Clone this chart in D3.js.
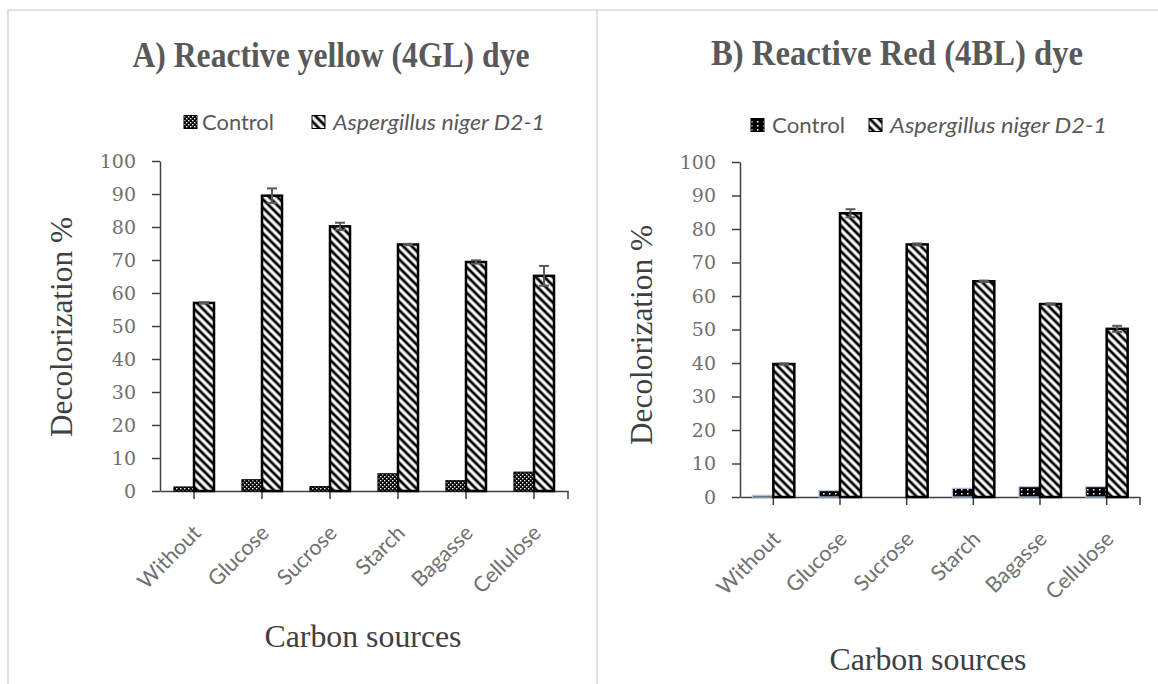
<!DOCTYPE html>
<html lang="en">

<head>
  <meta charset="UTF-8" />
  <script src="https://d3js.org/d3.v7.min.js"></script>
  <title>Decolorization by carbon source</title>
  <style>
    body { margin: 0; background: #fff; }
    svg { display: block; }
  </style>
</head>

<body>
  <svg width="1158" height="684"></svg>

  <script>
    // Data
    const categories = ["Without", "Glucose", "Sucrose", "Starch", "Bagasse", "Cellulose"];
    const seriesNames = ["Control", "Aspergillus niger D2-1"];
    const yTicks = [0, 10, 20, 30, 40, 50, 60, 70, 80, 90, 100];

    const yellowControl = [1.2, 3.4, 1.3, 5.2, 3.1, 5.7];
    const yellowAsp = [57, 89.5, 80.2, 74.7, 69.4, 65.2];
    const yellowAspErr = [0.2, 2.2, 1.1, 0.2, 0.5, 3.0];

    const redControl = [0.5, 1.9, 0, 2.6, 3.1, 3.1];
    const redAsp = [39.7, 84.7, 75.4, 64.4, 57.6, 50.2];
    const redAspErr = [0.2, 1.2, 0.3, 0.2, 0.2, 0.9];

    const svg = d3.select("svg");
    const defs = svg.append("defs");

    // hatch for the Aspergillus bars
    defs.append("pattern")
      .attr("id", "hatch")
      .attr("patternUnits", "userSpaceOnUse")
      .attr("width", 6).attr("height", 6)
      .attr("patternTransform", "rotate(-45)")
      .call(p => {
        p.append("rect").attr("width", 6).attr("height", 6).attr("fill", "#fff");
        p.append("line").attr("x1", 3).attr("y1", 0).attr("x2", 3).attr("y2", 6)
          .attr("stroke", "#000").attr("stroke-width", 2.8);
      });

    // dotted control fill (panel A)
    defs.append("pattern")
      .attr("id", "dotsA")
      .attr("patternUnits", "userSpaceOnUse")
      .attr("width", 4).attr("height", 4)
      .call(p => {
        p.append("rect").attr("width", 4).attr("height", 4).attr("fill", "#000");
        p.append("rect").attr("x", 0).attr("y", 0).attr("width", 1.4).attr("height", 1.4).attr("fill", "#fff");
        p.append("rect").attr("x", 2).attr("y", 2).attr("width", 1.4).attr("height", 1.4).attr("fill", "#fff");
      });

    // sparse dots control fill (panel B)
    defs.append("pattern")
      .attr("id", "dotsB")
      .attr("patternUnits", "userSpaceOnUse")
      .attr("width", 6).attr("height", 4)
      .call(p => {
        p.append("rect").attr("width", 6).attr("height", 4).attr("fill", "#000");
        p.append("rect").attr("x", 1).attr("y", 1).attr("width", 1.5).attr("height", 1.5).attr("fill", "#fff");
      });

    // frame lines
    const frame = svg.append("g").attr("stroke", "#d9d9d9").attr("stroke-width", 1.5).attr("fill", "none");
    frame.append("path").attr("d", "M8,684 V10 H1158");
    frame.append("path").attr("d", "M597,10 V684");

    const serif = "'Liberation Serif', 'DejaVu Serif', serif";
    const sans = "Lato, 'Open Sans', sans-serif";

    function drawPanel(cfg) {
      const g = svg.append("g");

      const x = d3.scaleBand()
        .domain(categories)
        .range([cfg.left, cfg.right]);

      const y = d3.scaleLinear()
        .domain([0, 100])
        .range([cfg.bottom, cfg.top]);

      // title
      g.append("text")
        .attr("x", cfg.titleX).attr("y", cfg.titleY)
        .attr("text-anchor", "middle")
        .attr("font-family", serif).attr("font-weight", "bold")
        .attr("font-size", 35).attr("fill", "#595959")
        .attr("textLength", cfg.titleW).attr("lengthAdjust", "spacingAndGlyphs")
        .text(cfg.title);

      // legend
      const leg = g.append("g").attr("font-family", sans).attr("font-size", 22).attr("fill", "#595959");
      cfg.legend.forEach((l, i) => {
        leg.append("rect")
          .attr("x", l.x).attr("y", cfg.legendY - 6.5)
          .attr("width", 13).attr("height", 13)
          .attr("fill", i === 0 ? `url(#${cfg.controlFill})` : "url(#hatch)")
          .attr("stroke", "#000").attr("stroke-width", 1);
        leg.append("text")
          .attr("x", l.tx).attr("y", cfg.legendY)
          .attr("dy", "0.35em")
          .attr("font-style", i === 1 ? "italic" : "normal")
          .attr("textLength", l.tw).attr("lengthAdjust", "spacingAndGlyphs")
          .text(seriesNames[i]);
      });

      // axes
      const yAxis = g.append("g")
        .attr("transform", `translate(${cfg.left},0)`)
        .call(d3.axisLeft(y).tickValues(yTicks).tickSize(8).tickSizeOuter(0).tickPadding(16));
      yAxis.select(".domain").attr("stroke", "#404040").attr("stroke-width", 1.5);
      yAxis.selectAll(".tick line").attr("stroke", "#404040").attr("stroke-width", 1.5);
      yAxis.selectAll(".tick text")
        .attr("font-family", "'DejaVu Serif', serif").attr("font-size", 19).attr("fill", "#707070");

      const xAxis = g.append("g")
        .attr("transform", `translate(0,${cfg.bottom})`)
        .call(d3.axisBottom(x).tickSize(8).tickSizeOuter(0));
      xAxis.select(".domain").attr("stroke", "#404040").attr("stroke-width", 1.5);
      xAxis.selectAll(".tick line").attr("stroke", "#404040").attr("stroke-width", 1.5);
      xAxis.append("line")
        .attr("x1", cfg.right).attr("x2", cfg.right)
        .attr("y1", 0).attr("y2", 8)
        .attr("stroke", "#404040").attr("stroke-width", 1.5);
      xAxis.selectAll(".tick text")
        .attr("font-family", sans).attr("font-size", 21.5).attr("fill", "#707070")
        .attr("text-anchor", "end")
        .attr("y", 0).attr("dy", "0.35em")
        .attr("transform", "translate(3,38) rotate(-45)");

      const bw = cfg.barW;
      const cx = c => x(c) + x.bandwidth() / 2;

      // control bars
      g.append("g").selectAll("rect")
        .data(categories.map((c, i) => ({ c, v: cfg.control[i] })))
        .join("rect")
        .attr("x", d => cx(d.c) - bw)
        .attr("y", d => y(d.v))
        .attr("width", bw)
        .attr("height", d => y(0) - y(d.v))
        .attr("fill", `url(#${cfg.controlFill})`)
        .attr("stroke", cfg.controlStroke).attr("stroke-width", 1.2);

      // Aspergillus bars
      g.append("g").selectAll("rect")
        .data(categories.map((c, i) => ({ c, v: cfg.asp[i] })))
        .join("rect")
        .attr("x", d => cx(d.c))
        .attr("y", d => y(d.v))
        .attr("width", bw)
        .attr("height", d => y(0) - y(d.v))
        .attr("fill", "url(#hatch)")
        .attr("stroke", "#000").attr("stroke-width", 2.5);

      // error bars
      const err = g.append("g").attr("stroke", "#595959").attr("stroke-width", 2);
      categories.forEach((c, i) => {
        const ex = cx(c) + bw / 2;
        const hi = y(cfg.asp[i] + cfg.aspErr[i]);
        const lo = y(cfg.asp[i] - cfg.aspErr[i]);
        err.append("line").attr("x1", ex).attr("x2", ex).attr("y1", hi).attr("y2", lo);
        err.append("line").attr("x1", ex - 5).attr("x2", ex + 5).attr("y1", hi).attr("y2", hi);
        err.append("line").attr("x1", ex - 5).attr("x2", ex + 5).attr("y1", lo).attr("y2", lo);
      });

      // axis titles
      g.append("text")
        .attr("transform", `translate(${cfg.yLabelX},${cfg.yLabelY}) rotate(-90)`)
        .attr("text-anchor", "middle")
        .attr("font-family", serif).attr("font-size", 31).attr("fill", "#404040")
        .attr("textLength", 220).attr("lengthAdjust", "spacingAndGlyphs")
        .text("Decolorization %");

      g.append("text")
        .attr("x", cfg.xLabelX).attr("y", cfg.xLabelY)
        .attr("text-anchor", "middle")
        .attr("font-family", serif).attr("font-size", 32).attr("fill", "#404040")
        .attr("textLength", 197).attr("lengthAdjust", "spacingAndGlyphs")
        .text("Carbon sources");
    }

    drawPanel({
      title: "A) Reactive yellow (4GL) dye", titleX: 331, titleY: 67, titleW: 397,
      legendY: 122, legend: [{ x: 184, tx: 202, tw: 72 }, { x: 312, tx: 333, tw: 212 }],
      left: 160, right: 568, top: 161, bottom: 491, barW: 20,
      control: yellowControl, asp: yellowAsp, aspErr: yellowAspErr,
      controlFill: "dotsA", controlStroke: "#000",
      yLabelX: 72, yLabelY: 327, xLabelX: 363, xLabelY: 647
    });

    drawPanel({
      title: "B) Reactive Red (4BL) dye", titleX: 897, titleY: 65, titleW: 372,
      legendY: 125, legend: [{ x: 751, tx: 772, tw: 73 }, { x: 869, tx: 890, tw: 217 }],
      left: 740, right: 1140, top: 162, bottom: 497, barW: 21,
      control: redControl, asp: redAsp, aspErr: redAspErr,
      controlFill: "dotsB", controlStroke: "#b4c7e7",
      yLabelX: 652, yLabelY: 335, xLabelX: 928, xLabelY: 670
    });
  </script>
</body>

</html>
